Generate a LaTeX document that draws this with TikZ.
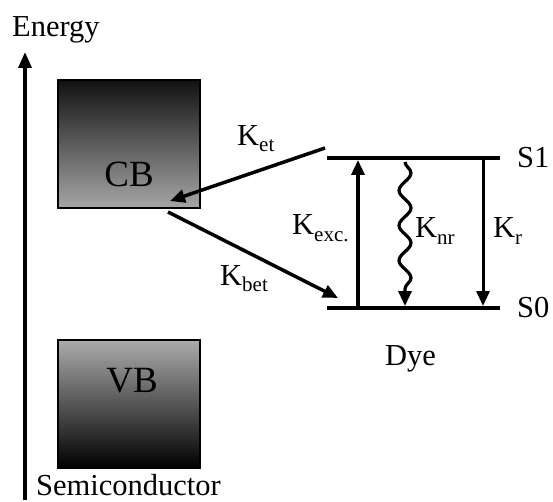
\documentclass[tikz,border=0pt]{standalone}
\usepackage{fontspec}
\setmainfont{Liberation Serif}
\usetikzlibrary{arrows.meta,decorations.pathmorphing}
\newcommand\ksub[1]{K\raisebox{-6pt}{\fontsize{21}{21}\selectfont #1}}
\begin{document}
\begin{tikzpicture}[x=1pt,y=-1pt,
  lbl/.style={font=\fontsize{30.5}{30.5}\selectfont, inner sep=0pt, anchor=base west},
  big/.style={font=\fontsize{37}{37}\selectfont, inner sep=0pt, anchor=base},
  level/.style={line width=4.5pt},
  tip/.style={-{Triangle[length=15pt,width=13pt]}},
  arr/.style={line width=3.5pt, tip}]
\useasboundingbox (0,0) rectangle (553,502);
% axis
\coordinate (ax0) at (25,500);
\coordinate (ax1) at (25,52);
\draw[line width=3.5pt, -{Triangle[length=16pt,width=13pt]}] (ax0) -- (ax1);
\node[lbl] (energy) at (12,37) {Energy};
\node[lbl] (semi) at (36,495) {Semiconductor};
% bands
\shade[top color=black!93, bottom color=black!35] (58,80) rectangle (200,208);
\draw[line width=1.5pt] (58,80) rectangle (200,208);
\node[big] (cb) at (129,187) {CB};
\shade[top color=black!33, bottom color=black] (58,340) rectangle (200,468);
\draw[line width=1.5pt] (58,340) rectangle (200,468);
\node[big] (vb) at (132,392) {VB};
% levels
\coordinate (s1a) at (327,158); \coordinate (s1b) at (500,158);
\coordinate (s0a) at (327,308); \coordinate (s0b) at (500,308);
\draw[level] (s1a) -- (s1b);
\draw[level] (s0a) -- (s0b);
\node[lbl] (s1) at (517,168) {S1};
\node[lbl] (s0) at (517,317) {S0};
\node[lbl] (dye) at (385,365) {Dye};
% transitions
\coordinate (exc0) at (358,306); \coordinate (exc1) at (358,160);
\draw[arr] (exc0) -- (exc1);
\coordinate (r0) at (483,160); \coordinate (r1) at (483,306);
\draw[line width=3pt, tip] (r0) -- (r1);
\coordinate (nr0) at (405,162); \coordinate (nr1) at (405,306);
\draw[line width=3.2pt, tip, decorate, decoration={snake, amplitude=6pt, segment length=35pt, post length=16pt}] (nr0) -- (nr1);
\node[lbl] (kexc) at (292,235) {\ksub{exc.}};
\node[lbl] (knr) at (415,238) {\ksub{nr}};
\node[lbl] (kr) at (493,238) {\ksub{r}};
% electron transfer
\coordinate (et0) at (325,148); \coordinate (et1) at (170,201);
\draw[arr] (et0) -- (et1);
\coordinate (bet0) at (168,212); \coordinate (bet1) at (338,298);
\draw[arr] (bet0) -- (bet1);
\node[lbl] (ket) at (237,146) {\ksub{et}};
\node[lbl] (kbet) at (220,285) {\ksub{bet}};
\end{tikzpicture}
\end{document}
